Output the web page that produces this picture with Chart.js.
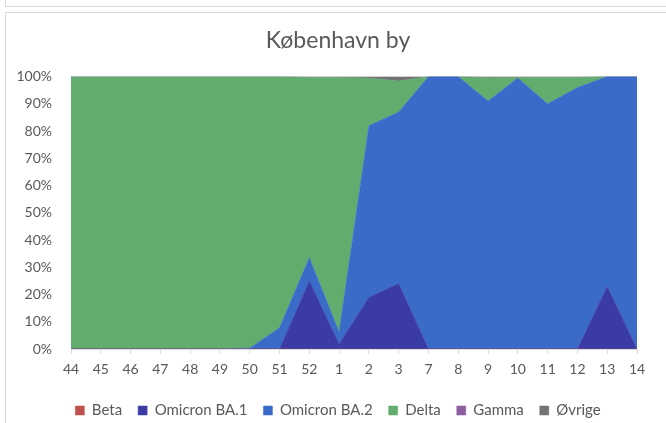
<!DOCTYPE html>
<html>
<head>
<meta charset="utf-8">
<script src="https://cdn.jsdelivr.net/npm/chart.js@4"></script>
<style>
  html, body { margin: 0; padding: 0; background: #fff; overflow: hidden; }
  .box { position: absolute; border: 1px solid #d9d9d9; }
  #wrap { position: absolute; left: 5px; top: 0; width: 666px; height: 428px; }
</style>
</head>
<body>
<div class="box" style="left:5px; top:-12px; width:700px; height:17px;"></div>
<div class="box" style="left:5px; top:12px; width:700px; height:450px;"></div>
<div id="wrap"><canvas id="chart" width="666" height="428"></canvas></div>
<script>
// uger (ISO-uge)
const weeks = ['44', '45', '46', '47', '48', '49', '50', '51', '52', '1', '2', '3', '7', '8', '9', '10', '11', '12', '13', '14'];

// andel af sekventerede prøver, procent
const beta   = [0, 0, 0, 0, 0, 0, 0, 0, 0, 0, 0, 0, 0, 0, 0, 0, 0, 0, 0, 0];
const ba1    = [0, 0, 0, 0, 0, 0, 0, 0, 25, 1.8, 19, 24, 0, 0, 0, 0, 0, 0, 23, 0];
const ba2    = [0, 0, 0, 0, 0, 0, 0.3, 7.8, 8.5, 4.4, 63, 63, 100, 100, 91, 99.5, 90, 96, 77, 100];
const delta  = [100, 100, 100, 100, 100, 100, 99.7, 92.2, 66.2, 93.5, 17.5, 11.4, 0, 0, 8.6, 0.2, 9.7, 3.7, 0, 0];
const gamma  = [0, 0, 0, 0, 0, 0, 0, 0, 0, 0, 0, 0, 0, 0, 0, 0, 0, 0, 0, 0];
const ovrige = [0, 0, 0, 0, 0, 0, 0, 0, 0.3, 0.3, 0.5, 1.6, 0, 0, 0.4, 0.3, 0.3, 0.3, 0, 0];

const yTicks = [0, 10, 20, 30, 40, 50, 60, 70, 80, 90, 100];

const colors = {
    beta: '#c0504d',
    ba1: '#3a3ba5',
    ba2: '#3b6bc8',
    delta: '#62ad6e',
    gamma: '#8c5fa0',
    ovrige: '#737373',
    text: '#595959',
    axis: '#d9d9d9'
};

const font = 'Lato';

function area(label, data, color, fill) {
    return {
        label: label,
        data: data,
        backgroundColor: color,
        borderColor: color,
        borderWidth: 0.5,
        pointRadius: 0,
        pointHoverRadius: 0,
        tension: 0,
        fill: fill
    };
}

new Chart(document.getElementById('chart').getContext('2d'), {
    type: 'line',
    data: {
        labels: weeks,
        datasets: [
            area('Beta', beta, colors.beta, 'origin'),
            area('Omicron BA.1', ba1, colors.ba1, '-1'),
            area('Omicron BA.2', ba2, colors.ba2, '-1'),
            area('Delta', delta, colors.delta, '-1'),
            area('Gamma', gamma, colors.gamma, '-1'),
            area('Øvrige', ovrige, colors.ovrige, '-1')
        ]
    },
    options: {
        responsive: false,
        animation: false,
        events: [],
        layout: { padding: { left: 0, right: 0, top: 0, bottom: 0 } },
        plugins: {
            title: {
                display: true,
                text: 'København by',
                color: colors.text,
                font: { family: font, size: 23, weight: 'normal' },
                padding: { top: 27, bottom: 22 }
            },
            legend: {
                position: 'bottom',
                labels: {
                    color: colors.text,
                    font: { family: font, size: 15 },
                    boxWidth: 9,
                    boxHeight: 9,
                    padding: 16
                }
            },
            tooltip: { enabled: false }
        },
        scales: {
            x: {
                offset: false,
                grid: { drawOnChartArea: false, drawTicks: true, tickLength: 5, color: colors.axis },
                border: { color: colors.axis },
                ticks: { color: colors.text, font: { family: font, size: 14 }, padding: 7, maxRotation: 0, autoSkip: false },
                afterFit: s => { s.height = 38; }
            },
            y: {
                stacked: true,
                min: 0,
                max: 100,
                afterBuildTicks: s => { s.ticks = yTicks.map(v => ({ value: v })); },
                grid: { display: false },
                border: { display: false },
                ticks: { color: colors.text, font: { family: font, size: 14 }, padding: 11, callback: v => v + '%' },
                afterFit: s => { s.width = 66; }
            },
            // tom akse i højre side, holder plotområdet fri af kanten
            yRight: {
                position: 'right',
                display: true,
                min: 0,
                max: 100,
                grid: { display: false },
                border: { display: false },
                ticks: { display: false },
                afterFit: s => { s.width = 34; }
            }
        }
    }
});
</script>
</body>
</html>
